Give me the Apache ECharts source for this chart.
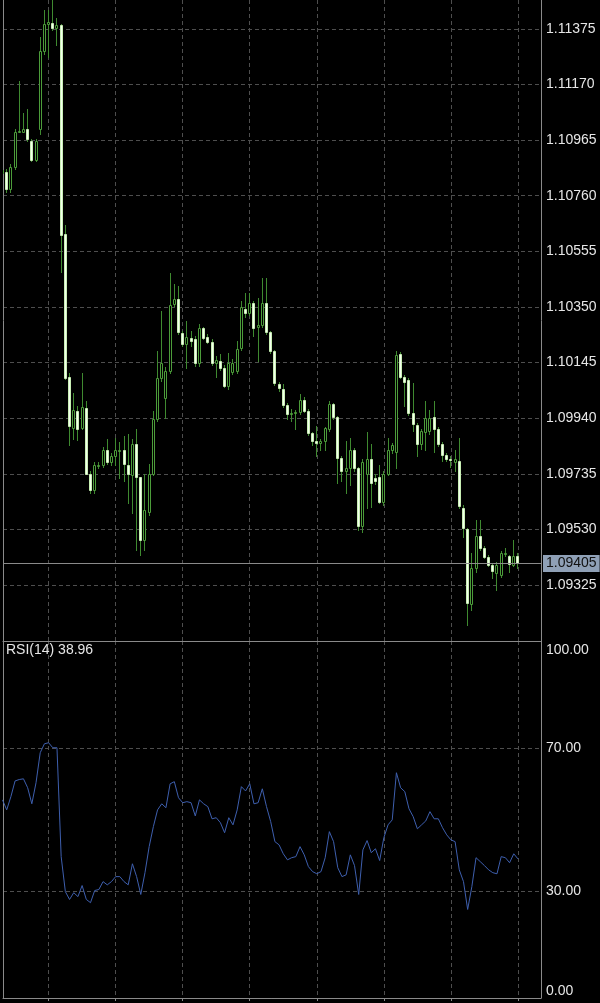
<!DOCTYPE html>
<html>
<head>
<meta charset="utf-8">
<script src="https://cdn.jsdelivr.net/npm/echarts@6/dist/echarts.min.js"></script>
<style>
html,body{margin:0;padding:0;background:#000;}
#chart{width:600px;height:1003px;}
</style>
</head>
<body>
<div id="chart"></div>
<script>
// ---- data (k = bar index, oldest first) ----
const opens = [
1.10842,1.10846,1.10783,1.10864,1.10996,1.10996,1.11004,1.10963,1.10890,1.11004,
1.11294,1.11393,1.11397,1.11378,1.11389,1.10618,1.10093,1.09905,1.09968,1.09905,
1.09979,1.09736,1.09674,1.09766,1.09766,1.09824,1.09777,1.09802,1.09821,1.09824,
1.09769,1.09729,1.09846,1.09722,1.09490,1.09593,1.09736,1.09938,1.10089,1.10015,
1.10115,1.10361,1.10379,1.10254,1.10214,1.10236,1.10232,1.10144,1.10273,1.10240,
1.10221,1.10144,1.10151,1.10126,1.10060,1.10111,1.10115,1.10199,1.10342,1.10328,
1.10364,1.10276,1.10284,1.10364,1.10258,1.10188,1.10067,1.10048,1.09990,1.09957,
1.09960,1.09964,1.10008,1.09968,1.09887,1.09857,1.09850,1.09857,1.09902,1.09993,
1.09946,1.09795,1.09747,1.09755,1.09824,1.09755,1.09541,1.09736,1.09791,1.09718,
1.09722,1.09633,1.09736,1.09824,1.09817,1.10177,1.10093,1.10082,1.09960,1.09916,
1.09846,1.09890,1.09894,1.09946,1.09902,1.09846,1.09806,1.09791,1.09780,1.09784,
1.09608,1.09530,1.09255,1.09387,1.09505,1.09461,1.09428,1.09398,1.09369,1.09361,
1.09439,1.09431,1.09398,1.09431
];
const highs = [
1.10864,1.10857,1.10875,1.11004,1.11184,1.11063,1.11081,1.10967,1.10967,1.11345,
1.11445,1.11445,1.11481,1.11415,1.11393,1.10651,1.10107,1.10034,1.09986,1.10107,
1.10004,1.09747,1.09777,1.09777,1.09835,1.09865,1.09813,1.09868,1.09854,1.09876,
1.09883,1.09865,1.09902,1.09725,1.09736,1.09773,1.09968,1.10188,1.10335,1.10129,
1.10475,1.10434,1.10427,1.10262,1.10298,1.10262,1.10243,1.10287,1.10276,1.10251,
1.10232,1.10170,1.10177,1.10137,1.10181,1.10159,1.10225,1.10372,1.10401,1.10401,
1.10372,1.10383,1.10456,1.10456,1.10262,1.10192,1.10074,1.10067,1.09997,1.09975,
1.09971,1.10030,1.10019,1.09975,1.09890,1.09913,1.09865,1.09909,1.10004,1.09997,
1.09949,1.09802,1.09857,1.09868,1.09832,1.09762,1.09791,1.09890,1.09846,1.09733,
1.09766,1.09747,1.09868,1.09850,1.10188,1.10184,1.10100,1.10089,1.10071,1.09924,
1.09902,1.10004,1.09971,1.10004,1.09909,1.09854,1.09813,1.09802,1.09821,1.09868,
1.09619,1.09534,1.09442,1.09564,1.09564,1.09468,1.09435,1.09405,1.09409,1.09450,
1.09461,1.09435,1.09490,1.09442
];
const lows = [
1.10831,1.10772,1.10772,1.10860,1.10993,1.10993,1.10963,1.10886,1.10886,1.10989,
1.11283,1.11272,1.11371,1.11316,1.10478,1.10085,1.09843,1.09865,1.09861,1.09902,
1.09733,1.09663,1.09663,1.09758,1.09762,1.09773,1.09769,1.09766,1.09718,1.09710,
1.09626,1.09589,1.09453,1.09435,1.09453,1.09582,1.09729,1.09931,1.10078,1.09942,
1.10107,1.10353,1.10251,1.10206,1.10126,1.10206,1.10133,1.10133,1.10232,1.10217,
1.10137,1.10093,1.10118,1.10056,1.10048,1.10104,1.10107,1.10192,1.10313,1.10320,
1.10243,1.10151,1.10276,1.10251,1.10181,1.10063,1.10041,1.09982,1.09938,1.09931,
1.09902,1.09957,1.09964,1.09879,1.09843,1.09799,1.09821,1.09821,1.09894,1.09938,
1.09703,1.09710,1.09663,1.09692,1.09747,1.09527,1.09519,1.09608,1.09611,1.09696,
1.09626,1.09619,1.09729,1.09813,1.09758,1.10089,1.09986,1.09953,1.09894,1.09802,
1.09828,1.09821,1.09883,1.09817,1.09839,1.09784,1.09784,1.09762,1.09747,1.09608,
1.09501,1.09178,1.09233,1.09372,1.09453,1.09424,1.09395,1.09350,1.09306,1.09354,
1.09431,1.09372,1.09395,1.09387
];
const closes = [
1.10853,1.10783,1.10864,1.10993,1.11000,1.11004,1.10967,1.10890,1.10963,1.11294,
1.11393,1.11401,1.11378,1.11389,1.10614,1.10089,1.09913,1.09971,1.09902,1.09982,
1.09736,1.09674,1.09766,1.09769,1.09824,1.09777,1.09802,1.09821,1.09824,1.09773,
1.09733,1.09846,1.09722,1.09490,1.09600,1.09736,1.09938,1.10089,1.10144,1.10115,
1.10357,1.10379,1.10258,1.10214,1.10240,1.10225,1.10144,1.10273,1.10236,1.10221,
1.10144,1.10155,1.10126,1.10060,1.10144,1.10144,1.10195,1.10350,1.10328,1.10364,
1.10273,1.10284,1.10364,1.10258,1.10188,1.10071,1.10052,1.09990,1.09957,1.09960,
1.09964,1.10008,1.09968,1.09887,1.09857,1.09850,1.09857,1.09905,1.09993,1.09946,
1.09795,1.09747,1.09755,1.09824,1.09755,1.09541,1.09780,1.09788,1.09703,1.09707,
1.09633,1.09736,1.09824,1.09843,1.10173,1.10093,1.10074,1.09960,1.09920,1.09846,
1.09894,1.09942,1.09942,1.09902,1.09846,1.09806,1.09791,1.09788,1.09791,1.09615,
1.09534,1.09259,1.09387,1.09505,1.09461,1.09428,1.09398,1.09376,1.09398,1.09442,
1.09442,1.09402,1.09431,1.09405
];
const rsi = [
55.5,52.7,56.4,60.8,61.2,61.4,58.9,54.4,60.3,68.7,
71.2,71.5,70.1,70.1,39.6,29.8,27.6,29.5,28.4,31.5,
27.6,26.7,30.1,30.4,32.6,31.7,32.6,34.0,34.0,32.6,
31.7,37.6,34.0,29.0,35.1,42.4,48.0,52.7,54.4,53.3,
60.0,60.6,56.1,54.7,55.0,54.7,51.0,55.5,54.4,53.6,
50.2,50.5,49.1,46.3,50.5,48.5,52.7,59.2,58.0,60.0,
54.4,54.7,58.6,53.6,49.4,43.8,42.9,40.4,38.7,39.3,
39.6,42.4,40.1,36.8,35.4,34.8,35.4,39.3,46.6,43.8,
36.5,34.0,34.5,40.1,37.1,29.0,41.5,44.1,40.7,41.8,
38.5,44.9,48.5,49.9,63.1,58.9,57.8,53.0,50.8,47.4,
48.5,49.6,52.2,50.2,50.2,47.7,45.7,44.3,43.8,35.9,
32.6,24.8,31.2,39.3,38.2,37.1,35.9,35.1,34.8,39.6,
39.3,37.9,40.4,38.96
];
const priceTicks = [1.09325,1.09530,1.09735,1.09940,1.10145,1.10350,1.10555,1.10760,1.10965,1.11170,1.11375];
const rsiLabels = [0,30,70,100];
const rsiLevels = [30,70];
const timeGridBars = [11,27,43,59,75,91,107,123];
const rsiTitle = 'RSI(14) 38.96';

// ---- styles ----
const FONT = '"Liberation Sans", Arial, sans-serif';
const TEXT = '#e6e6e6';
const BORDER = '#8a8a8a';
const WICK = '#3f8a30';
const BULL_EDGE = '#4c9c3a';
const BEAR_FILL = '#f3ffee';
const BEAR_EDGE = '#c8eeb4';
const dashStyle = {color:'#4e4e4e', type:[4,3], width:1};
const borderLine = {show:true, onZero:false, lineStyle:{color:BORDER, width:1}};

const candleData = opens.map((o,i)=>[i,o,closes[i],lows[i],highs[i]]);
const closeData = closes.map((v,i)=>[i,v]);
const rsiData = rsi.map((v,i)=>[i,v]);

function renderCandle(params, api){
  const x = api.value(0), o = api.value(1), c = api.value(2), l = api.value(3), h = api.value(4);
  const pO = api.coord([x,o]), pC = api.coord([x,c]), pL = api.coord([x,l]), pH = api.coord([x,h]);
  const cx = Math.floor(pO[0]);
  const up = c >= o;
  const yTop = Math.round(Math.min(pO[1], pC[1]));
  const yBot = Math.round(Math.max(pO[1], pC[1]));
  const bh = Math.max(yBot - yTop, 1);
  return {
    type:'group',
    children:[
      {type:'line', shape:{x1:cx+0.5, y1:Math.round(pH[1]), x2:cx+0.5, y2:Math.round(pL[1])+1},
       style:{stroke:WICK, lineWidth:1}},
      {type:'rect', shape:{x:cx-0.5, y:yTop+0.5, width:2, height:bh},
       style:{fill: up ? '#000' : BEAR_FILL, stroke: up ? BULL_EDGE : BEAR_EDGE, lineWidth:1}}
    ]
  };
}

const chart = echarts.init(document.getElementById('chart'), null, {renderer:'canvas'});
chart.setOption({
  backgroundColor:'#000',
  animation:false,
  title:{text:rsiTitle, left:6, top:643, padding:0,
    textStyle:{color:TEXT, fontSize:14, fontWeight:'normal', fontFamily:FONT}},
  grid:[
    {left:3, right:59, top:-2, height:643, show:false},
    {left:3, right:59, top:641, height:357, show:false}
  ],
  xAxis:[
    {type:'value', gridIndex:0, position:'bottom', min:0.12, max:128.5,
     axisLine:borderLine, axisLabel:{show:false},
     axisTick:{show:false, customValues:timeGridBars},
     splitLine:{show:true, lineStyle:dashStyle}},
    {type:'value', gridIndex:1, position:'bottom', min:0.12, max:128.5,
     axisLine:borderLine, axisLabel:{show:false},
     axisTick:{show:true, customValues:timeGridBars, length:3, lineStyle:{color:BORDER}},
     splitLine:{show:true, lineStyle:dashStyle}}
  ],
  yAxis:[
    {type:'value', gridIndex:0, position:'right', min:1.09119, max:1.11481,
     axisLine:borderLine,
     axisTick:{show:false, customValues:priceTicks},
     axisLabel:{customValues:priceTicks, formatter:v=>v.toFixed(5), color:TEXT, fontSize:14, fontFamily:FONT, margin:5},
     splitLine:{show:true, lineStyle:dashStyle}},
    {type:'value', gridIndex:1, position:'right', min:0, max:100,
     axisLine:borderLine,
     axisTick:{show:false, customValues:rsiLevels},
     axisLabel:{customValues:rsiLabels, formatter:v=>v.toFixed(2), color:TEXT, fontSize:14, fontFamily:FONT, margin:5,
       verticalAlignMinLabel:'bottom', verticalAlignMaxLabel:'top',
       padding:[2,0,0,0]},
     splitLine:{show:true, lineStyle:dashStyle}},
    {type:'value', gridIndex:0, position:'left', min:1.09119, max:1.11481,
     axisLine:borderLine, axisTick:{show:false}, axisLabel:{show:false}, splitLine:{show:false}},
    {type:'value', gridIndex:1, position:'left', min:0, max:100,
     axisLine:borderLine, axisTick:{show:false}, axisLabel:{show:false}, splitLine:{show:false}}
  ],
  series:[
    {type:'custom', name:'EURUSD', xAxisIndex:0, yAxisIndex:0, clip:true,
     renderItem:renderCandle, encode:{x:0, y:[1,2,3,4]}, data:candleData, z:3},
    {type:'line', name:'Bid', xAxisIndex:0, yAxisIndex:0, data:closeData, showSymbol:false, silent:true,
     lineStyle:{opacity:0}, z:2,
     markLine:{symbol:'none', silent:true, animation:false, precision:5,
       lineStyle:{color:BORDER, type:'solid', width:1},
       label:{position:'end', distance:2, formatter:p=>Number(p.value).toFixed(5),
         backgroundColor:'#8fa0b6', color:'#111', fontSize:14, fontFamily:FONT, padding:[2,3,1,3]},
       data:[{yAxis:closes[closes.length-1]}]}},
    {type:'line', name:'RSI(14)', xAxisIndex:1, yAxisIndex:1, data:rsiData, showSymbol:false, clip:true,
     lineStyle:{color:'#3e5fae', width:1}}
  ]
});
</script>
</body>
</html>
